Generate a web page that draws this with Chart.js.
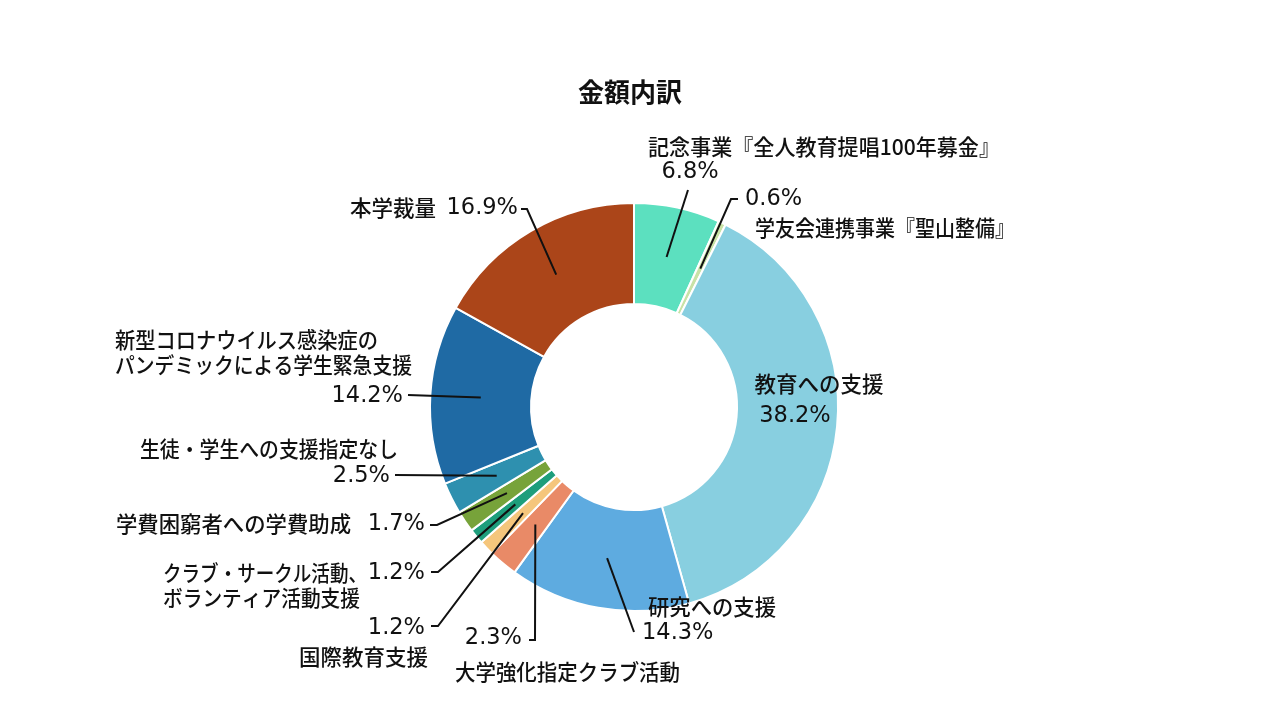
<!DOCTYPE html>
<html lang="ja">
<head>
<meta charset="utf-8">
<title>金額内訳</title>
<script src="https://cdn.jsdelivr.net/npm/chart.js@4.4.1/dist/chart.umd.min.js"></script>
<style>
  html, body { margin: 0; padding: 0; background: #fff; }
  canvas { display: block; }
</style>
</head>
<body>
<canvas id="myChart" width="1280" height="720"></canvas>
<script>
// data, clockwise from 12 o'clock
const categories = [
  '記念事業『全人教育提唱100年募金』',
  '学友会連携事業『聖山整備』',
  '教育への支援',
  '研究への支援',
  '大学強化指定クラブ活動',
  '国際教育支援',
  'クラブ・サークル活動、ボランティア活動支援',
  '学費困窮者への学費助成',
  '生徒・学生への支援指定なし',
  '新型コロナウイルス感染症のパンデミックによる学生緊急支援',
  '本学裁量'
];
const shares = [6.8, 0.6, 38.2, 14.3, 2.3, 1.2, 1.2, 1.7, 2.5, 14.2, 16.9];
const sliceColors = [
  '#5CE0BF', '#C8E2A6', '#88CFE0', '#5EABE0', '#E98A67', '#F5C67C',
  '#1E9E7C', '#77A33A', '#2E90AF', '#1F6AA4', '#AB4519'
];

// where each label sits: [text, x, y, align, max width], percent, leader bends
const JP = '500 21.5px "Noto Sans CJK JP"';
const PCT = '22.5px "DejaVu Sans"';
const labelLayout = [
  { name: [['記念事業『全人教育提唱100年募金』', 824, 147, 'center', 352]], pct: [690, 172, 'center'], path: [[688, 190]] },
  { name: [['学友会連携事業『聖山整備』', 755, 228, 'left', 260]], pct: [745, 199, 'left'], path: [[731, 199], [738, 199]] },
  { name: [['教育への支援', 819, 384, 'center', 130]], pct: [795, 416, 'center'], path: null },
  { name: [['研究への支援', 648, 607, 'left', 128]], pct: [642, 633, 'left'], path: [[634, 632]] },
  { name: [['大学強化指定クラブ活動', 455, 672, 'left', 225]], pct: [522, 638, 'right'], path: [[535, 640], [529, 640]] },
  { name: [['国際教育支援', 428, 657, 'right', 130]], pct: [425, 628, 'right'], path: [[438, 626], [431, 626]] },
  { name: [['クラブ・サークル活動、', 163, 573, 'left', 204], ['ボランティア活動支援', 163, 598, 'left', 197]], pct: [425, 573, 'right'], path: [[438, 572], [431, 572]] },
  { name: [['学費困窮者への学費助成', 351, 524, 'right', 235]], pct: [425, 524, 'right'], path: [[437, 525], [430, 525]] },
  { name: [['生徒・学生への支援指定なし', 269, 449, 'center', 258]], pct: [390, 476, 'right'], path: [[395, 475]] },
  { name: [['新型コロナウイルス感染症の', 115, 340, 'left', 263], ['パンデミックによる学生緊急支援', 115, 365, 'left', 297]], pct: [403, 396, 'right'], path: [[408, 395]] },
  { name: [['本学裁量', 436, 208, 'right', 86]], pct: [518, 208, 'right'], path: [[527, 209], [521, 209]] }
];

const labelPlugin = {
  id: 'outside_labels',
  afterDraw: (chart) => {
    const ctx = chart.ctx;
    const arcs = chart.getDatasetMeta(0).data;
    ctx.save();
    ctx.fillStyle = '#111';
    ctx.strokeStyle = '#111';
    ctx.lineWidth = 2;
    ctx.textBaseline = 'middle';

    // title
    ctx.font = 'bold 26px "Noto Sans CJK JP"';
    ctx.textAlign = 'center';
    ctx.fillText('金額内訳', 630, 92);

    arcs.forEach((arc, i) => {
      const lay = labelLayout[i];
      if (lay.path) {
        const p = arc.getCenterPoint();
        ctx.beginPath();
        ctx.moveTo(p.x, p.y);
        lay.path.forEach(pt => ctx.lineTo(pt[0], pt[1]));
        ctx.stroke();
      }
      ctx.font = JP;
      lay.name.forEach(n => {
        ctx.textAlign = n[3];
        ctx.fillText(n[0], n[1], n[2], n[4]);
      });
      ctx.font = PCT;
      ctx.textAlign = lay.pct[2];
      ctx.fillText(shares[i].toFixed(1) + '%', lay.pct[0], lay.pct[1]);
    });
    ctx.restore();
  }
};

const ctx = document.getElementById('myChart').getContext('2d');
const myChart = new Chart(ctx, {
  type: 'doughnut',
  data: {
    labels: categories,
    datasets: [{
      data: shares,
      backgroundColor: sliceColors,
      borderColor: '#fff',
      borderWidth: 2
    }]
  },
  options: {
    responsive: false,
    animation: false,
    cutout: '50.5%',
    layout: { padding: { left: 429, right: 441, top: 202, bottom: 108 } },
    plugins: {
      legend: { display: false },
      tooltip: { enabled: false },
      title: { display: false }
    }
  },
  plugins: [labelPlugin]
});
</script>
</body>
</html>
